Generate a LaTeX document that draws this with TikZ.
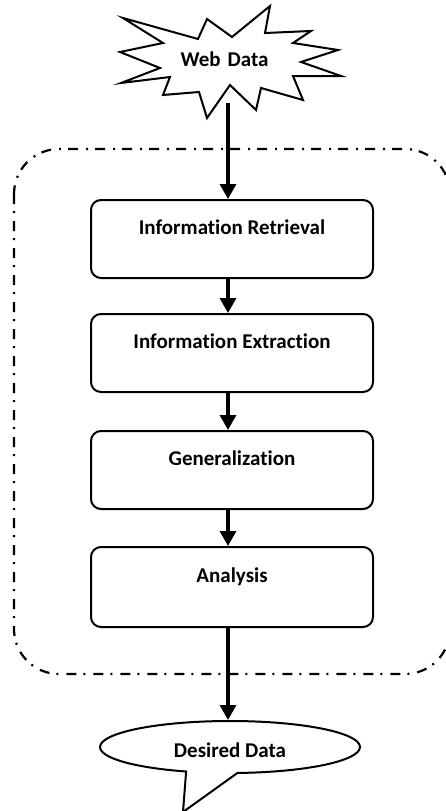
\documentclass[tikz,border=0pt]{standalone}
\usepackage{fontspec}
\setmainfont{Carlito}[Ligatures=NoCommon]
\usetikzlibrary{arrows.meta,shapes.callouts}

\tikzset{
  lbl/.style={font=\fontsize{21}{25}\selectfont\bfseries},
  stagebox/.style={draw, line width=2pt, rounded corners=10pt, anchor=north,
    minimum width=282pt, minimum height=78pt, text height=15pt, text depth=25pt, lbl},
  flow/.style={line width=3.3pt, -{Triangle[length=15pt,width=16pt]}},
  frame/.style={line width=2.2pt, dash pattern=on 10pt off 7pt on 2pt off 8pt, rounded corners=45pt},
  burst/.style={draw, line width=2pt, line join=miter},
  bubble/.style={ellipse callout, draw, line width=2pt, minimum width=260pt, minimum height=52pt,
    callout pointer arc=23, text height=20pt, text depth=0pt, lbl}
}

\begin{document}
\begin{tikzpicture}[x=1pt, y=-1pt]
  \useasboundingbox (0,0) rectangle (445,811);

  % dash-dot frame around the processing stages
  \draw[frame] (14,149) rectangle (450,674);

  % source: starburst outline
  \draw[burst] (123,18) -- (198,39) -- (207,19) -- (232,37) -- (270,6) -- (265,33)
    -- (311,31) -- (293,43) -- (338,50) -- (301,62) -- (341,76) -- (293,76)
    -- (303,100) -- (261,88) -- (256,110) -- (230,85) -- (207,118) -- (199,92)
    -- (163,95) -- (170,77) -- (121,83) -- (160,68) -- (120,52) -- (163,43) -- cycle;
  \node[lbl, anchor=base] (web) at (224.5,66) {Web\,\,Data};
  \coordinate (webfoot) at (228,103);

  % processing stages
  \node[stagebox] (b1) at (232,199) {Information Retrieval};
  \node[stagebox] (b2) at (232,313) {Information Extraction};
  \node[stagebox] (b3) at (232,430) {Generalization};
  \node[stagebox, minimum height=80pt] (b4) at (232,546) {Analysis};

  % result: speech bubble
  \node[bubble, callout absolute pointer={(183,812)}] (dd) at (230,747) {Desired Data};

  % flow arrows
  \draw[flow] (webfoot) -- ([xshift=-4pt]b1.north);
  \draw[flow] ([xshift=-4pt]b1.south) -- ([xshift=-4pt]b2.north);
  \draw[flow] ([xshift=-4pt]b2.south) -- ([xshift=-4pt]b3.north);
  \draw[flow] ([xshift=-4pt]b3.south) -- ([xshift=-4pt]b4.north);
  \draw[flow] ([xshift=-4pt]b4.south) -- ([xshift=-2pt]dd.north);
\end{tikzpicture}
\end{document}
